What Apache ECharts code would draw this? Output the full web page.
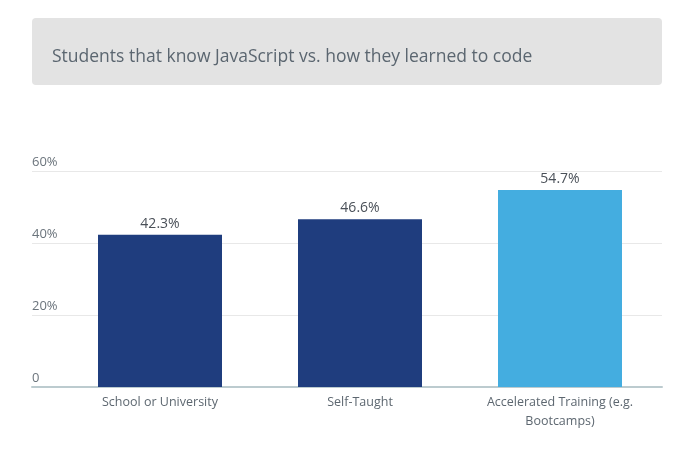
<!DOCTYPE html>
<html><head><meta charset="utf-8">
<script src="https://cdn.jsdelivr.net/npm/echarts@6/dist/echarts.min.js"></script>
<style>html,body{margin:0;padding:0;background:#fff}#c{width:686px;height:460px}</style>
</head><body><div id="c"></div>
<script>
const titleText = 'Students that know JavaScript vs. how they learned to code';
const categories = ['School or University', 'Self-Taught', 'Accelerated Training (e.g.\nBootcamps)'];
const values = [42.3, 46.6, 54.7];
const barColors = ['#1f3d7e', '#1f3d7e', '#44ade0'];
const yTicks = [0, 20, 40, 60];

const chart = echarts.init(document.getElementById('c'), null, {renderer: 'canvas'});
const font = '"Open Sans", sans-serif';
chart.setOption({
  animation: false,
  graphic: [
    {type: 'rect', left: 32, top: 18, shape: {width: 630, height: 67, r: 4}, style: {fill: '#e3e3e3'}},
    {type: 'text', left: 52, top: 48, style: {text: titleText, fill: '#5b6670', font: '17.5px "Open Sans", sans-serif'}}
  ],
  grid: [
    {left: 60, right: 26, top: 171, bottom: 73},
    {left: 32, right: 24, top: 171, bottom: 73}
  ],
  xAxis: [
    {type: 'category', gridIndex: 0, data: categories,
     axisLine: {show: false}, axisTick: {show: false},
     axisLabel: {color: '#5d6770', fontSize: 12.5, fontFamily: font, margin: 6, lineHeight: 19, interval: 0}},
    {type: 'value', gridIndex: 1, min: 0, max: 1, axisLine: {show: true, lineStyle: {color: '#bccbcf', width: 2}},
     axisTick: {show: false}, axisLabel: {show: false}, splitLine: {show: false}}
  ],
  yAxis: [
    {type: 'value', gridIndex: 0, min: yTicks[0], max: yTicks[yTicks.length-1], interval: 20, show: false},
    {type: 'value', gridIndex: 1, min: yTicks[0], max: yTicks[yTicks.length-1], interval: 20,
     axisLine: {show: false}, axisTick: {show: false},
     splitLine: {show: true, lineStyle: {color: '#e8e8e8', width: 1}},
     axisLabel: {inside: true, margin: 0, verticalAlign: 'bottom', color: '#6b747c', fontSize: 13, fontFamily: font,
                 padding: [0, 0, 2, 0],
                 formatter: v => v === 0 ? '0' : v + '%'}}
  ],
  series: [{
    type: 'bar', xAxisIndex: 0, yAxisIndex: 0, barWidth: 124,
    data: values.map((v, i) => ({value: v, itemStyle: {color: barColors[i]}})),
    label: {show: true, position: 'top', distance: 4, color: '#4a5058', fontSize: 14, fontFamily: font,
            formatter: p => p.value.toFixed(1) + '%'}
  }]
});
</script></body></html>
